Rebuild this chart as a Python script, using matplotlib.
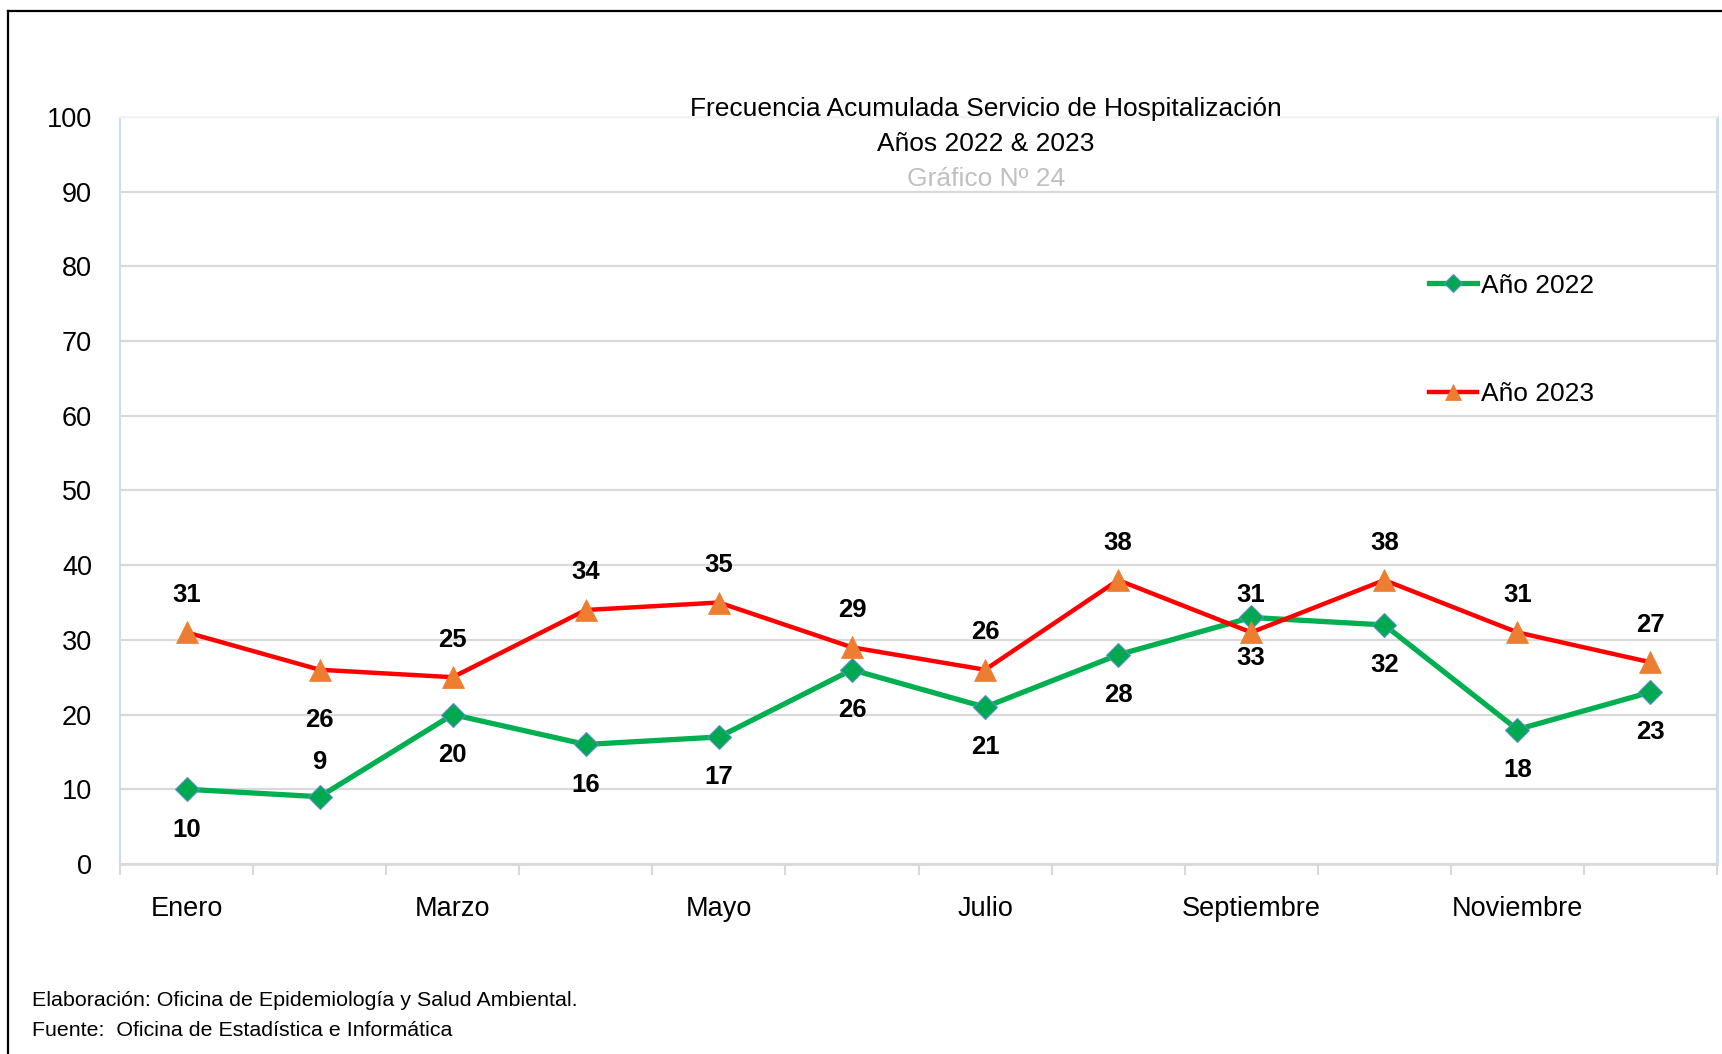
import numpy as np
import matplotlib

matplotlib.use('Agg')

import matplotlib.pyplot as plt
from matplotlib.lines import Line2D

plt.rcParams['font.family'] = ['Liberation Sans', 'DejaVu Sans']

months = ['Enero', 'Febrero', 'Marzo', 'Abril', 'Mayo', 'Junio', 'Julio',
          'Agosto', 'Septiembre', 'Octubre', 'Noviembre', 'Diciembre']
y2022 = [10, 9, 20, 16, 17, 26, 21, 28, 33, 32, 18, 23]
y2023 = [31, 26, 25, 34, 35, 29, 26, 38, 31, 38, 31, 27]

# label placement (points, vertical): 2022 mostly below, 2023 mostly above
off2022 = [-29, 25, -29, -29, -29, -29, -29, -29, -29, -29, -29, -29]
off2023 = [27, -36, 27, 27, 27, 27, 27, 27, 27, 27, 27, 27]

fig = plt.figure(figsize=(17.22, 10.54), dpi=100)
ax = fig.add_axes([0.0697, 0.1803, 0.9274, 0.7087])

x = np.arange(len(months))
ax.plot(x, y2022, color='#00b050', lw=3.8, marker='D', ms=12.5,
        mfc='#00a84f', mec='#5b8fd0', mew=0.8, label='Año 2022', zorder=3)
ax.plot(x, y2023, color='#ff0000', lw=3.2, marker='^', ms=15.5,
        mfc='#ed7d31', mec='#ed7d31', mew=0.5, label='Año 2023', zorder=3)

for xi, v, o in zip(x, y2022, off2022):
    ax.annotate(str(v), (xi, v), xytext=(0, o), textcoords='offset points',
                ha='center', va='center', fontsize=18.5, fontweight='bold')
for xi, v, o in zip(x, y2023, off2023):
    ax.annotate(str(v), (xi, v), xytext=(0, o), textcoords='offset points',
                ha='center', va='center', fontsize=18.5, fontweight='bold')

ax.set_xlim(-0.5, len(months) - 0.5)
ax.set_ylim(0, 100)
ax.set_yticks(range(0, 101, 10))
ax.yaxis.grid(True, color='#d9d9d9', lw=1.6)
ax.set_axisbelow(True)
ax.tick_params(axis='y', length=0, labelsize=19.5, pad=20)

ax.set_xticks(x[::2])
ax.set_xticklabels(months[::2])
ax.set_xticks(np.arange(-0.5, len(months), 1), minor=True)
ax.tick_params(axis='x', which='major', length=0, labelsize=19.5, pad=23)
ax.tick_params(axis='x', which='minor', length=8, width=1.5, color='#d9d9d9')

ax.spines['top'].set_color('#f0f4fa')
ax.spines['top'].set_linewidth(1.5)
ax.spines['left'].set_color('#c9dcf2')
ax.spines['left'].set_linewidth(1.5)
ax.spines['right'].set_color('#c9dcf2')
ax.spines['right'].set_linewidth(2)
ax.spines['bottom'].set_color('#d9d9d9')
ax.spines['bottom'].set_linewidth(2)

# titles
fig.text(0.5726, 0.897, 'Frecuencia Acumulada Servicio de Hospitalización',
         ha='center', va='center', fontsize=19)
fig.text(0.5726, 0.8637, 'Años 2022 & 2023', ha='center', va='center', fontsize=19)
fig.text(0.5726, 0.830, 'Gráfico Nº 24', ha='center', va='center', fontsize=19,
         color='#c0c0c0')

# legend
handles, labels = ax.get_legend_handles_labels()
ax.legend(handles, labels, loc='upper left', bbox_to_anchor=(0.805, 0.822),
          frameon=False, fontsize=19, handlelength=1.8, handletextpad=0.15,
          labelspacing=3.2, markerscale=0.75)

# footer
fig.text(0.0186, 0.051, 'Elaboración: Oficina de Epidemiología y Salud Ambiental.',
         ha='left', va='center', fontsize=15.4)
fig.text(0.0186, 0.0226, 'Fuente:  Oficina de Estadística e Informática',
         ha='left', va='center', fontsize=15.4)

# outer frame (left and top)
fx, fy = 8 / 1722, 1 - 11 / 1054
fig.add_artist(Line2D([fx, fx], [0, fy], color='black', lw=1.6))
fig.add_artist(Line2D([fx, 1], [fy, fy], color='black', lw=1.6))

fig.savefig('out.png', dpi=100)
